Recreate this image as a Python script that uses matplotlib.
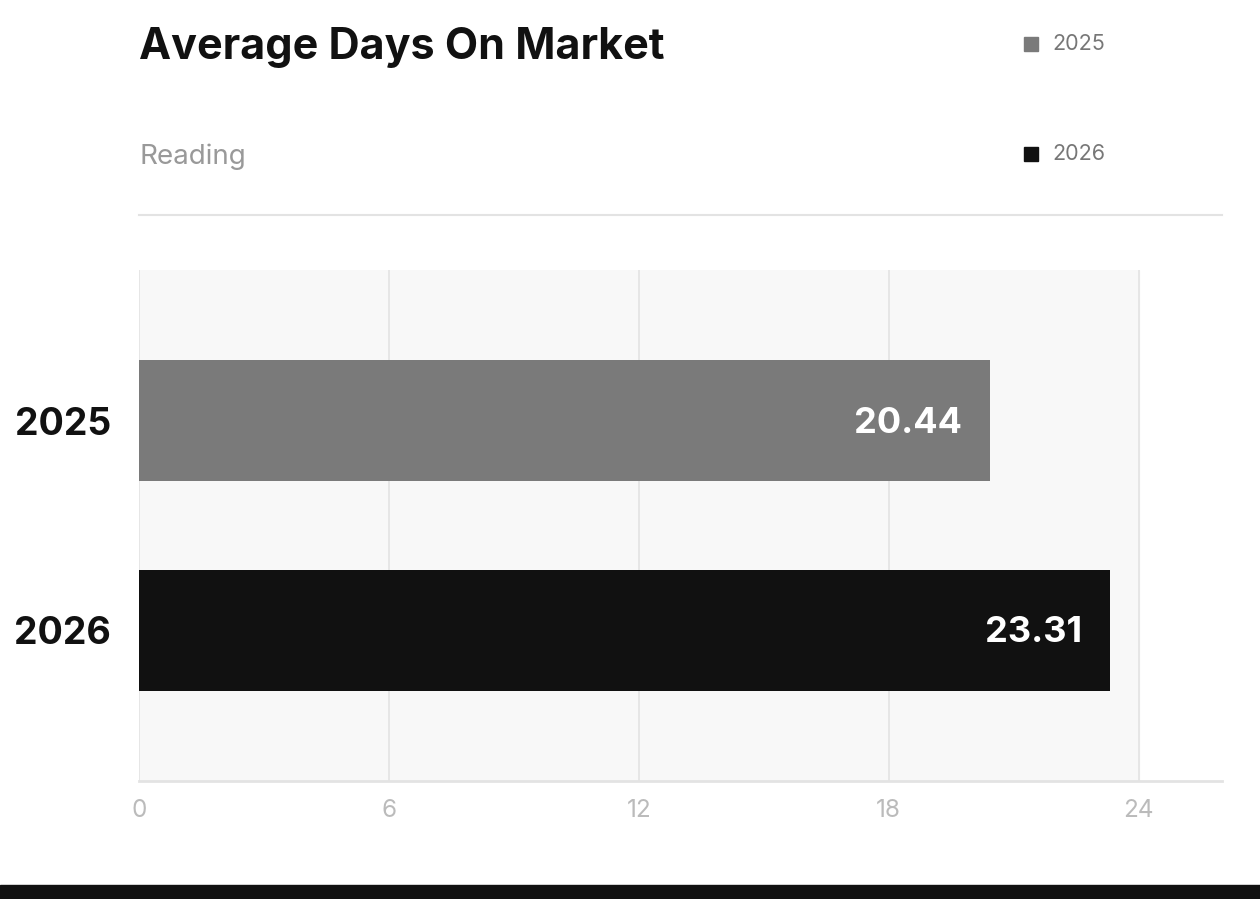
import matplotlib
matplotlib.use("Agg")
import matplotlib.pyplot as plt
from matplotlib.patches import Rectangle
from matplotlib.lines import Line2D

categories = ["2025", "2026"]
values = [20.44, 23.31]
colors = ["#7a7a7a", "#111111"]
ticks = [0, 6, 12, 18, 24]
title = "Average Days On Market"
subtitle = "Reading"

plt.rcParams['font.family'] = ['Inter', 'DejaVu Sans']

W, H = 1260, 899
fig = plt.figure(figsize=(W / 100, H / 100), dpi=100)

def fx(px):
    return px / W

def fy(py):
    return 1 - py / H

ax = fig.add_axes([fx(139), fy(781), fx(1222) - fx(139), fy(270) - fy(781)])
ax.set_xlim(0, 26)
ax.set_ylim(1.717, -0.717)
ax.axvspan(0, 24, color="#f8f8f8", zorder=0)
for t in ticks:
    ax.axvline(t, color="#e3e3e3", lw=1.2, zorder=1)

ypos = list(range(len(categories)))
ax.barh(ypos, values, height=0.576, color=colors, zorder=2)
for y, v in zip(ypos, values):
    ax.text(v - 0.68, y + 0.012, f"{v:.2f}", color="white", fontsize=26, fontweight="bold",
            ha="right", va="center", zorder=3)

ax.set_yticks(ypos)
ax.set_yticklabels(categories, fontsize=27, fontweight="bold", color="#111111")
for lbl in ax.get_yticklabels():
    lbl.set_y(lbl.get_position()[1])
ax.set_xticks(ticks)
ax.set_xticklabels([str(t) for t in ticks], fontsize=17.5, color="#bbbbbb")
ax.tick_params(axis="both", length=0)
ax.tick_params(axis="y", pad=20)
ax.tick_params(axis="x", pad=13)
for s in ["top", "right", "left"]:
    ax.spines[s].set_visible(False)
ax.spines["bottom"].set_color("#e3e3e3")
ax.spines["bottom"].set_linewidth(2)

# Title and subtitle
fig.text(fx(139), fy(48), title, fontsize=31, fontweight="bold", color="#111111",
         ha="left", va="center")
fig.text(fx(139), fy(157), subtitle, fontsize=20, color="#999999", ha="left", va="center")

# separator line
fig.add_artist(Line2D([fx(139), fx(1222)], [fy(215), fy(215)], color="#e3e3e3", lw=1.5))

# legend
leg_y = [44, 154]
for cat, col, yy in zip(categories, colors, leg_y):
    fig.add_artist(Rectangle((fx(1024), fy(yy + 7)), fx(14), fy(0) - fy(14), color=col,
                             transform=fig.transFigure))
    fig.text(fx(1052), fy(yy), cat, fontsize=15.5, color="#777777", ha="left", va="center")

# bottom band
fig.add_artist(Rectangle((0, 0), 1, fy(885), color="#111111", transform=fig.transFigure))

fig.savefig("out.png", dpi=100)
